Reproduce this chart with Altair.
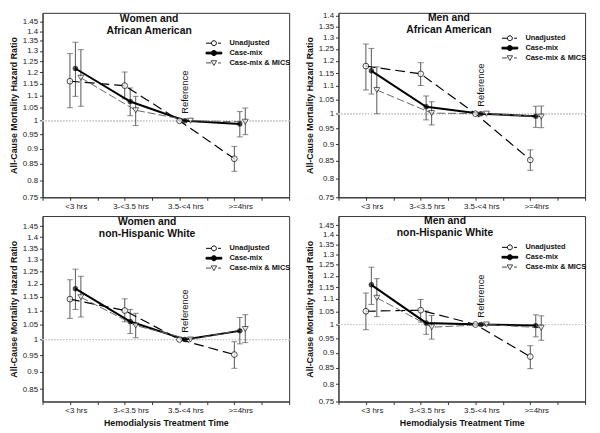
import altair as alt
import pandas as pd

categories = ["<3 hrs", "3-<3.5 hrs", "3.5-<4 hrs", ">=4hrs"]
series_names = ["Unadjusted", "Case-mix", "Case-mix & MICS"]

# Women and African American
waa_unadj = [1.160, 1.141, 1.000, 0.867]
waa_unadj_lo = [1.050, 1.086, 1.000, 0.827]
waa_unadj_hi = [1.287, 1.201, 1.000, 0.908]
waa_case = [1.217, 1.075, 1.000, 0.988]
waa_case_lo = [1.096, 1.019, 1.000, 0.941]
waa_case_hi = [1.343, 1.131, 1.000, 1.035]
waa_mics = [1.175, 1.040, 1.000, 0.996]
waa_mics_lo = [1.056, 0.982, 1.000, 0.949]
waa_mics_hi = [1.306, 1.096, 1.000, 1.049]

# Men and African American
maa_unadj = [1.178, 1.147, 1.000, 0.853]
maa_unadj_lo = [1.085, 1.102, 1.000, 0.823]
maa_unadj_hi = [1.271, 1.192, 1.000, 0.883]
maa_case = [1.159, 1.024, 1.000, 0.991]
maa_case_lo = [1.070, 0.979, 1.000, 0.954]
maa_case_hi = [1.252, 1.063, 1.000, 1.026]
maa_mics = [1.085, 1.002, 1.000, 0.990]
maa_mics_lo = [1.000, 0.962, 1.000, 0.953]
maa_mics_hi = [1.175, 1.042, 1.000, 1.027]

# Women and non-Hispanic White
wnw_unadj = [1.142, 1.100, 1.000, 0.952]
wnw_unadj_lo = [1.072, 1.060, 1.000, 0.910]
wnw_unadj_hi = [1.217, 1.143, 1.000, 0.993]
wnw_case = [1.182, 1.061, 1.000, 1.029]
wnw_case_lo = [1.104, 1.020, 1.000, 0.986]
wnw_case_hi = [1.260, 1.104, 1.000, 1.075]
wnw_mics = [1.149, 1.047, 1.000, 1.035]
wnw_mics_lo = [1.077, 1.006, 1.000, 0.990]
wnw_mics_hi = [1.231, 1.090, 1.000, 1.085]

# Men and non-Hispanic White
mnw_unadj = [1.051, 1.055, 1.000, 0.887]
mnw_unadj_lo = [0.981, 1.009, 1.000, 0.848]
mnw_unadj_hi = [1.125, 1.098, 1.000, 0.924]
mnw_case = [1.160, 1.006, 1.000, 0.996]
mnw_case_lo = [1.078, 0.964, 1.000, 0.955]
mnw_case_hi = [1.239, 1.052, 1.000, 1.037]
mnw_mics = [1.105, 0.990, 1.000, 0.988]
mnw_mics_lo = [1.030, 0.947, 1.000, 0.943]
mnw_mics_hi = [1.187, 1.034, 1.000, 1.033]

panel_titles = [
    ["Women and", "African American"],
    ["Men and", "African American"],
    ["Women and", "non-Hispanic White"],
    ["Men and", "non-Hispanic White"],
]

yticks_full = [0.75, 0.8, 0.85, 0.9, 0.95, 1.0, 1.05, 1.1, 1.15, 1.2, 1.25, 1.3, 1.35, 1.4, 1.45]
yticks_to140 = [0.75, 0.8, 0.85, 0.9, 0.95, 1.0, 1.05, 1.1, 1.15, 1.2, 1.25, 1.3, 1.35, 1.4]
yticks_from085 = [0.85, 0.9, 0.95, 1.0, 1.05, 1.1, 1.15, 1.2, 1.25, 1.3, 1.35, 1.4, 1.45]

xtick_values = [0.5, 1, 1.5, 2, 2.5, 3, 3.5, 4, 4.5, 5]

FONT = "Liberation Sans"
W = 250

# legend symbols: line + marker glyphs
legend_paths = [
    "M-4,0H-1.25M2.1,0H3.6M1.25,0A1.25,1.25,0,1,1,-1.25,0A1.25,1.25,0,1,1,1.25,0",
    "M-4,-0.45H4V0.45H-4ZM1.3,0A1.3,1.3,0,1,1,-1.3,0A1.3,1.3,0,1,1,1.3,0",
    "M-4,0H-1.4M2.1,0H3.6M-1.4,-1.1H1.4L0,1.3Z",
]
legend_fills = ["white", "black", "white"]
legend_strokes = ["black", "black", "#444444"]


def build_df(unadj, ulo, uhi, case, clo, chi, mics, mlo, mhi):
    rows = []
    groups = [(unadj, ulo, uhi), (case, clo, chi), (mics, mlo, mhi)]
    for si, (hr, lo, hi) in enumerate(groups):
        for ci, cat in enumerate(categories):
            rows.append({
                "category": cat,
                "series": series_names[si],
                "pos": ci + 1 + 0.1 * si,
                "hr": hr[ci],
                "lo": lo[ci],
                "hi": hi[ci],
            })
    return pd.DataFrame(rows)


label_expr = ("datum.value == 1 ? '<3 hrs' : datum.value == 2 ? '3-<3.5 hrs' : "
              "datum.value == 3 ? '3.5-<4 hrs' : datum.value == 4 ? '>=4hrs' : ''")


def panel(df, title, ydomain, yticks, height, title_x, title_y, legend_y, xtitle):
    xaxis = alt.Axis(values=xtick_values, labelExpr=label_expr, labelOffset=6,
                     title=xtitle, grid=False, labelOverlap=False, tickSize=3,
                     titlePadding=4)
    yaxis = alt.Axis(values=yticks, format="~g", title="All-Cause Mortality Hazard Ratio",
                     grid=False, labelOverlap=False, tickSize=3, titlePadding=4)
    xs = alt.Scale(domain=[0.5, 5])
    ys = alt.Scale(type="log", domain=ydomain)
    x = alt.X("pos:Q", scale=xs, axis=xaxis)
    y = alt.Y("hr:Q", scale=ys, axis=yaxis)

    base = alt.Chart(df)
    layers = []
    layers.append(base.mark_rule(color="#cfcfcf", strokeDash=[1, 2], strokeWidth=1)
                  .encode(y=alt.datum(1.0, scale=ys, axis=yaxis)))
    bars = base.transform_filter("datum.lo != datum.hi")
    layers.append(bars.mark_rule(color="#555555", strokeWidth=1).encode(
        x=x, y=alt.Y("lo:Q", scale=ys, axis=yaxis), y2="hi:Q"))
    layers.append(bars.mark_tick(color="#555555", orient="horizontal", size=6, thickness=1).encode(
        x=x, y=alt.Y("lo:Q", scale=ys, axis=yaxis)))
    layers.append(bars.mark_tick(color="#555555", orient="horizontal", size=6, thickness=1).encode(
        x=x, y=alt.Y("hi:Q", scale=ys, axis=yaxis)))

    line_styles = [
        dict(color="black", strokeWidth=1.2, strokeDash=[10, 5]),
        dict(color="black", strokeWidth=2),
        dict(color="#666666", strokeWidth=1, strokeDash=[8, 3]),
    ]
    for name, st in zip(series_names, line_styles):
        layers.append(base.transform_filter(alt.datum.series == name)
                      .mark_line(**st).encode(x=x, y=y, order="pos:Q"))

    point_styles = [
        dict(shape="circle", size=34, filled=True, fill="white", stroke="black", strokeWidth=1),
        dict(shape="circle", size=30, filled=True, color="black"),
        dict(shape="triangle-down", size=36, filled=True, fill="white", stroke="#222222", strokeWidth=1),
    ]
    for name, st in zip(series_names, point_styles):
        layers.append(base.transform_filter(alt.datum.series == name)
                      .mark_point(**st).encode(x=x, y=y))

    one_row = base.transform_filter(
        (alt.datum.series == series_names[1]) & (alt.datum.category == categories[2]))

    # "Reference" label at the reference category
    layers.append(one_row.mark_text(text="Reference", angle=270, align="left", baseline="middle",
                                    dx=7, font=FONT, fontSize=9.5, color="#111111")
                  .encode(x=x, y=y))

    # panel title inside the plot frame
    layers.append(one_row.mark_text(text=title, align="center", baseline="top", font=FONT,
                                    fontSize=10.5, fontWeight="bold", lineHeight=12.5,
                                    color="#111111")
                  .encode(x=alt.value(title_x), y=alt.value(title_y)))

    # legend (glyphs only, data marks clipped away)
    leg = alt.Legend(title=None, orient="none", legendX=170, legendY=legend_y,
                     labelFont=FONT, labelFontWeight="bold", labelFontSize=7.5,
                     labelColor="#111111", symbolSize=16, symbolStrokeWidth=1,
                     symbolStrokeColor="black", symbolOpacity=1, labelOffset=12,
                     rowPadding=0, padding=0)
    layers.append(base.transform_calculate(off="1000")
                  .mark_point(color="black", opacity=1, clip=True, strokeWidth=1, size=16).encode(
        x=x, y=alt.Y("off:Q", scale=ys, axis=yaxis),
        shape=alt.Shape("series:N", scale=alt.Scale(domain=series_names, range=legend_paths),
                        legend=leg),
        fill=alt.Fill("series:N", scale=alt.Scale(domain=series_names, range=legend_fills),
                      legend=leg),
        stroke=alt.Stroke("series:N", scale=alt.Scale(domain=series_names, range=legend_strokes),
                          legend=leg),
    ))

    return alt.layer(*layers).properties(width=W, height=height)


df_tl = build_df(waa_unadj, waa_unadj_lo, waa_unadj_hi, waa_case, waa_case_lo, waa_case_hi,
                 waa_mics, waa_mics_lo, waa_mics_hi)
df_tr = build_df(maa_unadj, maa_unadj_lo, maa_unadj_hi, maa_case, maa_case_lo, maa_case_hi,
                 maa_mics, maa_mics_lo, maa_mics_hi)
df_bl = build_df(wnw_unadj, wnw_unadj_lo, wnw_unadj_hi, wnw_case, wnw_case_lo, wnw_case_hi,
                 wnw_mics, wnw_mics_lo, wnw_mics_hi)
df_br = build_df(mnw_unadj, mnw_unadj_lo, mnw_unadj_hi, mnw_case, mnw_case_lo, mnw_case_hi,
                 mnw_mics, mnw_mics_lo, mnw_mics_hi)

xt = "Hemodialysis Treatment Time"
tl = panel(df_tl, panel_titles[0], [0.75, 1.5], yticks_full, 187, 108, 1, 27, None)
tr = panel(df_tr, panel_titles[1], [0.75, 1.415], yticks_to140, 187, 112, 0, 22, None)
bl = panel(df_bl, panel_titles[2], [0.816, 1.5], yticks_from085, 188, 106, 1, 29, xt)
br = panel(df_br, panel_titles[3], [0.75, 1.5], yticks_full, 188, 108, 0, 28, xt)

chart = alt.concat(tl, tr, bl, br, columns=2, spacing={"row": 4, "column": 8}).resolve_scale(
    shape="independent", fill="independent", stroke="independent",
    x="independent", y="independent"
).properties(padding=0).configure_view(
    stroke="#333333", strokeWidth=1
).configure_axis(
    domainColor="#333333", tickColor="#333333", labelColor="#222222",
    labelFont=FONT, labelFontSize=8, titleFont=FONT, titleFontSize=9,
    titleFontWeight="bold", titleColor="#111111", labelPadding=2
)

chart.save("out.html", embed_options={"renderer": "svg", "actions": False})
